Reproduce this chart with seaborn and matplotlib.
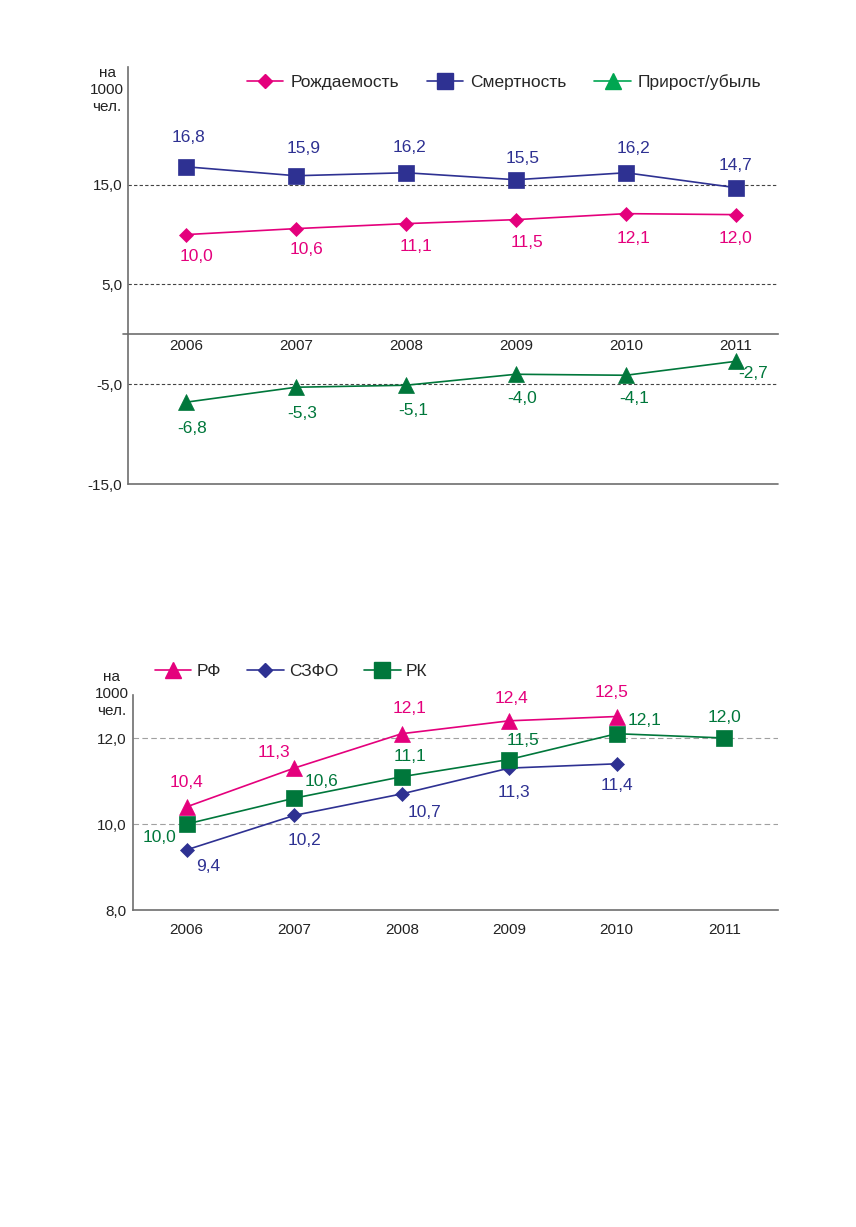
import numpy as np
import pandas as pd
import seaborn as sns
import matplotlib.pyplot as plt
from matplotlib.lines import Line2D
from matplotlib.ticker import FixedLocator

# Данные: верхний график (на 1000 человек)
years = [2006, 2007, 2008, 2009, 2010, 2011]
rozhd = [10.0, 10.6, 11.1, 11.5, 12.1, 12.0]
smert = [16.8, 15.9, 16.2, 15.5, 16.2, 14.7]
prirost = [-6.8, -5.3, -5.1, -4.0, -4.1, -2.7]

# Данные: нижний график (рождаемость)
years_rf = [2006, 2007, 2008, 2009, 2010]
rf = [10.4, 11.3, 12.1, 12.4, 12.5]
years_szfo = [2006, 2007, 2008, 2009, 2010]
szfo = [9.4, 10.2, 10.7, 11.3, 11.4]
years_rk = [2006, 2007, 2008, 2009, 2010, 2011]
rk = [10.0, 10.6, 11.1, 11.5, 12.1, 12.0]

# Смещения подписей (в пикселях)
smert_off = [(3, 29), (8, 27), (4, 25), (7, 21), (8, 24), (0, 22)]
rozhd_off = [(11, -22), (11, -21), (10, -23), (11, -23), (8, -25), (0, -24)]
prirost_off = [(6, -26), (6, -26), (7, -25), (6, -24), (8, -23), (17, -12)]
rf_off = [(0, 24), (-20, 16), (8, 25), (2, 22), (-5, 24)]
szfo_off = [(21, -17), (10, -25), (23, -19), (5, -24), (0, -22)]
rk_off = [(-27, -13), (27, 17), (8, 20), (14, 19), (28, 13), (0, 21)]

PINK = '#E4007C'
NAVY = '#2E3192'
GREEN = '#00773B'
GREEN_L = '#00A651'
GRAY = '#6E6E6E'
TXT = '#222222'

sns.set_style("white")
plt.rcParams['font.family'] = ['Liberation Sans', 'DejaVu Sans']

W, H = 856, 1227
fig = plt.figure(figsize=(W / 100, H / 100), dpi=100)


def fmt(v):
    return f"{v:.1f}".replace('.', ',')


def series(ax, xs, ys, color, marker, ms, offsets):
    df = pd.DataFrame({'год': xs, 'значение': ys})
    sns.lineplot(data=df, x='год', y='значение', ax=ax, color=color, marker=marker,
                 markersize=ms, linewidth=1.2, markeredgecolor=color,
                 markeredgewidth=0.5, zorder=3)
    for x, y, (dx, dy) in zip(xs, ys, offsets):
        ax.annotate(fmt(y), (x, y), xytext=(dx, dy), textcoords='offset pixels',
                    ha='center', va='center', fontsize=12.5, color=color)


# ---------- Верхний график ----------
ax1 = fig.add_axes([128 / W, 1 - 484 / H, 650 / W, 417 / H])
ax1.set_xlim(2006 - 0.527, 2011 + 0.382)
ax1.set_ylim(-15, 26.8)

for g in [15, 5, -5]:
    ax1.axhline(g, color='#444444', lw=0.8, ls=(0, (3, 2)), zorder=1)
ax1.axhline(-15, color=GRAY, lw=1.2, clip_on=False, zorder=2)
ax1.plot([-0.008, 0], [0, 0], transform=ax1.get_yaxis_transform(),
         color=GRAY, lw=1.2, clip_on=False)

series(ax1, years, smert, NAVY, 's', 11.5, smert_off)
series(ax1, years, rozhd, PINK, 'D', 7.5, rozhd_off)
series(ax1, years, prirost, GREEN, '^', 12, prirost_off)

ax1.spines['top'].set_visible(False)
ax1.spines['right'].set_visible(False)
ax1.spines['bottom'].set_position(('data', 0))
for s in ['left', 'bottom']:
    ax1.spines[s].set_color(GRAY)
    ax1.spines[s].set_linewidth(1.2)

ax1.set_xticks(years)
ax1.set_xticklabels([str(y) for y in years])
ax1.xaxis.set_minor_locator(FixedLocator([y + 0.5 for y in years[:-1]]))
ax1.tick_params(axis='x', which='major', length=0, pad=3.5, labelsize=11, labelcolor=TXT)
ax1.tick_params(axis='x', which='minor', direction='in', length=4, width=1, color=GRAY)
ax1.set_yticks([15, 5, -5, -15])
ax1.set_yticklabels([fmt(v) for v in [15, 5, -5, -15]])
ax1.tick_params(axis='y', length=0, pad=4, labelsize=11, labelcolor=TXT)
ax1.set_xlabel('')
ax1.set_ylabel('')

fig.text(107 / W, 1 - 90 / H, 'на\n1000\nчел.', ha='center', va='center',
         fontsize=11, color=TXT, linespacing=1.25)

h1 = [Line2D([], [], color=PINK, marker='D', ms=7.5, lw=1.2),
      Line2D([], [], color=NAVY, marker='s', ms=11.5, lw=1.2),
      Line2D([], [], color=GREEN_L, marker='^', ms=12, lw=1.2)]
fig.legend(h1, ['Рождаемость', 'Смертность', 'Прирост/убыль'], loc='center left',
           bbox_to_anchor=(247 / W, 1 - 82 / H), ncol=3, frameon=False, fontsize=12.5,
           handlelength=2.1, handletextpad=0.4, columnspacing=1.6,
           borderpad=0, borderaxespad=0)

# ---------- Нижний график ----------
ax2 = fig.add_axes([133 / W, 1 - 910 / H, 645 / W, 215 / H])
ax2.set_xlim(2005.5, 2011.5)
ax2.set_ylim(8, 13)

for g in [12, 10]:
    ax2.axhline(g, color='#A0A0A0', lw=0.8, ls=(0, (5, 3)), zorder=1)

series(ax2, years_rf, rf, PINK, '^', 12, rf_off)
series(ax2, years_szfo, szfo, NAVY, 'D', 7.5, szfo_off)
series(ax2, years_rk, rk, GREEN, 's', 11.5, rk_off)

ax2.spines['top'].set_visible(False)
ax2.spines['right'].set_visible(False)
for s in ['left', 'bottom']:
    ax2.spines[s].set_color(GRAY)
    ax2.spines[s].set_linewidth(1.2)

ax2.set_xticks(years)
ax2.set_xticklabels([str(y) for y in years])
ax2.xaxis.set_minor_locator(FixedLocator([2005.5] + [y + 0.5 for y in years]))
ax2.tick_params(axis='x', which='major', length=0, pad=9, labelsize=11, labelcolor=TXT)
ax2.tick_params(axis='x', which='minor', direction='out', length=4, width=1, color=GRAY)
ax2.set_yticks([12, 10, 8])
ax2.set_yticklabels([fmt(v) for v in [12, 10, 8]])
ax2.tick_params(axis='y', direction='out', length=4, width=1, color=GRAY, pad=1,
                labelsize=11, labelcolor=TXT)
ax2.set_xlabel('')
ax2.set_ylabel('')

fig.text(112 / W, 1 - 694 / H, 'на\n1000\nчел.', ha='center', va='center',
         fontsize=11, color=TXT, linespacing=1.25)

h2 = [Line2D([], [], color=PINK, marker='^', ms=12, lw=1.2),
      Line2D([], [], color=NAVY, marker='D', ms=7.5, lw=1.2),
      Line2D([], [], color=GREEN, marker='s', ms=11.5, lw=1.2)]
fig.legend(h2, ['РФ', 'СЗФО', 'РК'], loc='center left',
           bbox_to_anchor=(155 / W, 1 - 671 / H), ncol=3, frameon=False, fontsize=12.5,
           handlelength=2.1, handletextpad=0.3, columnspacing=1.5,
           borderpad=0, borderaxespad=0)

plt.savefig('out.png', dpi=100)
